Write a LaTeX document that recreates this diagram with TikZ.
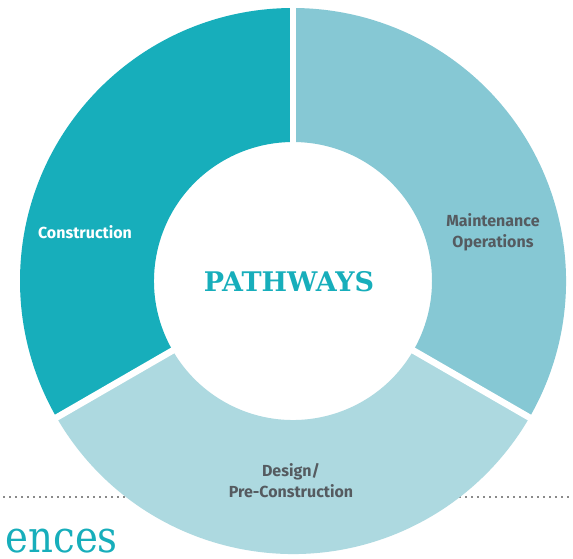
\documentclass[tikz,border=0pt]{standalone}
\usepackage{fontspec}
\usetikzlibrary{calc}
\newfontfamily\labfont{Fira Sans}
\newfontfamily\slabfont{DejaVu Serif}
\definecolor{cteal}{HTML}{17AEBB}
\definecolor{cmaint}{HTML}{86C8D4}
\definecolor{cdesign}{HTML}{ADD9E0}
\definecolor{ctext}{HTML}{555B60}
\definecolor{cdot}{HTML}{8A8A8A}
\tikzset{
  seglabel/.style={font=\labfont\bfseries\fontsize{16}{21}\selectfont, align=center, inner sep=0pt},
  gapline/.style={white, line width=6.5pt},
}
\begin{document}
\begin{tikzpicture}[x=1pt,y=1pt]
\useasboundingbox (0,0) rectangle (573,-558);
\clip (0,0) rectangle (573,-558);
\fill[white] (0,0) rectangle (573,-558);
% dotted rule
\coordinate (dl) at (3,-497);
\coordinate (dr) at (570,-497);
\draw[cdot, line width=1.6pt, dash pattern=on 1.6pt off 4.4pt] (dl) -- (dr);
% bottom partial title
\node[anchor=base east, inner sep=0pt, text=cteal, font=\slabfont\fontsize{44}{44}\selectfont, xscale=0.88] (ences) at (118,-552) {ences};
% donut
\coordinate (c) at (293,-281);
\def\Ro{273}
\def\Ri{139}
\fill[cteal] ($(c)+(90:\Ro)$) arc (90:210:\Ro) -- ($(c)+(210:\Ri)$) arc (210:90:\Ri) -- cycle;
\fill[cdesign] ($(c)+(210:\Ro)$) arc (210:330:\Ro) -- ($(c)+(330:\Ri)$) arc (330:210:\Ri) -- cycle;
\fill[cmaint] ($(c)+(-30:\Ro)$) arc (-30:90:\Ro) -- ($(c)+(90:\Ri)$) arc (90:-30:\Ri) -- cycle;
\coordinate (g1) at ($(c)+(90:\Ro+6)$);
\coordinate (g2) at ($(c)+(210:\Ro+6)$);
\coordinate (g3) at ($(c)+(330:\Ro+6)$);
\draw[gapline] (c) -- (g1);
\draw[gapline] (c) -- (g2);
\draw[gapline] (c) -- (g3);
% labels
\node[inner sep=0pt, text=cteal, font=\slabfont\bfseries\fontsize{27}{27}\selectfont] (pw) at (289,-282) {PATHWAYS};
\node[seglabel, text=white] (con) at (85,-232) {Construction};
\node[seglabel, text=ctext] (mo) at (493,-232) {Maintenance\\Operations};
\node[seglabel, text=ctext] (dp) at (291,-481) {Design/\\Pre-Construction};
\end{tikzpicture}
\end{document}
